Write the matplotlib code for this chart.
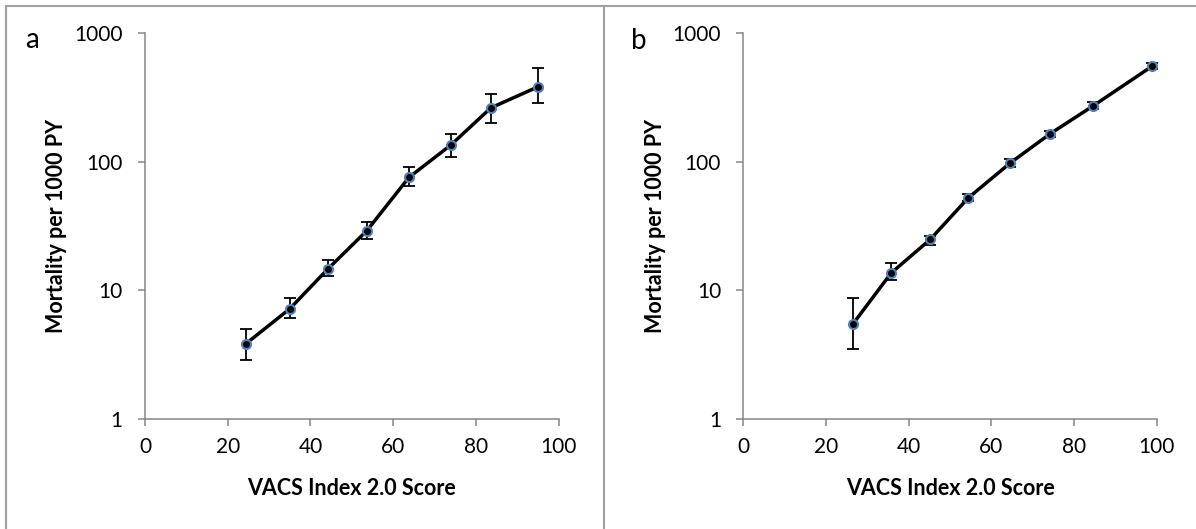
import matplotlib
matplotlib.use('Agg')
import matplotlib.pyplot as plt
from matplotlib.lines import Line2D
from matplotlib.ticker import FixedLocator, NullLocator

plt.rcParams['font.family'] = ['Lato', 'DejaVu Sans']

# panel a
score_a = [24.4, 35.0, 44.3, 53.6, 63.8, 73.9, 83.6, 95.1]
mort_a = [3.85, 7.2, 14.8, 29.1, 75.7, 135, 263, 385]
lo_a = [2.88, 6.1, 12.9, 24.9, 64.7, 109, 200, 289]
hi_a = [4.99, 8.7, 17.2, 34.3, 91.8, 165, 339, 535]

# panel b
score_b = [26.6, 35.8, 45.2, 54.4, 64.6, 74.3, 84.5, 98.8]
mort_b = [5.53, 13.7, 24.9, 52.4, 98.2, 166, 271, 552]
lo_b = [3.5, 12.1, 22.6, 49.2, 92.0, 157, 256, 524]
hi_b = [8.7, 16.2, 26.6, 55.8, 104.8, 175, 290, 585]

panel_labels = ['a', 'b']
x_ticks = [0, 20, 40, 60, 80, 100]
y_ticks = [1, 10, 100, 1000]

W, H = 1196, 529
fig = plt.figure(figsize=(W / 100, H / 100), dpi=100)

grey = '#868686'
blue = '#4F81BD'

ax_a = fig.add_axes([145 / W, 1 - 419 / H, 413.7 / W, 385.7 / H])
ax_b = fig.add_axes([743.3 / W, 1 - 419 / H, 413.4 / W, 385.7 / H])

data = [(ax_a, score_a, mort_a, lo_a, hi_a), (ax_b, score_b, mort_b, lo_b, hi_b)]
for i, (ax, x, y, lo, hi) in enumerate(data):
    yerr = [[v - l for v, l in zip(y, lo)], [h - v for v, h in zip(y, hi)]]
    ax.errorbar(x, y, yerr=yerr, fmt='none', ecolor='black', elinewidth=1.3,
                capsize=4, capthick=1.3, zorder=2)
    ax.plot(x, y, color='black', lw=2.5, marker='o', ms=6.5, mfc='black',
            mec=blue, mew=1.5, zorder=3)
    ax.set_yscale('log')
    ax.set_xlim(0, 100)
    ax.set_ylim(1, 1000)
    ax.xaxis.set_major_locator(FixedLocator(x_ticks))
    ax.yaxis.set_major_locator(FixedLocator(y_ticks))
    ax.yaxis.set_minor_locator(NullLocator())
    ax.set_yticklabels([str(t) for t in y_ticks])
    for s in ['top', 'right']:
        ax.spines[s].set_visible(False)
    for s in ['left', 'bottom']:
        ax.spines[s].set_color(grey)
        ax.spines[s].set_linewidth(1.1)
    ax.tick_params(axis='both', direction='out', length=5, width=1.1,
                   color=grey, labelsize=15, labelcolor='black')
    ax.tick_params(axis='y', pad=11)
    ax.tick_params(axis='x', pad=8)
    ax.set_xlabel('VACS Index 2.0 Score', fontsize=15.5, fontweight='bold', labelpad=15)
    ax.set_ylabel('Mortality per 1000 PY', fontsize=15.5, fontweight='bold', labelpad=5)

fig.text(32 / W, 1 - 40 / H, panel_labels[0], fontsize=20, ha='center', va='center')
fig.text(639 / W, 1 - 41 / H, panel_labels[1], fontsize=20, ha='center', va='center')

# panel frames
frame = '#A0A0A0'
fig.add_artist(Line2D([6 / W, 1], [1 - 6 / H, 1 - 6 / H], color=frame, lw=1.5))
fig.add_artist(Line2D([6 / W, 6 / W], [0, 1 - 6 / H], color=frame, lw=1.5))
fig.add_artist(Line2D([604 / W, 604 / W], [0, 1 - 6 / H], color=frame, lw=1.5))

fig.savefig('out.png', dpi=100)
